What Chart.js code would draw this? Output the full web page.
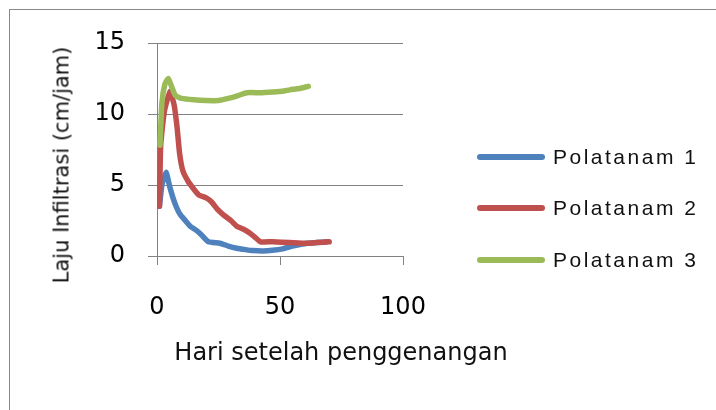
<!DOCTYPE html>
<html>
<head>
<meta charset="utf-8">
<script src="https://cdn.jsdelivr.net/npm/chart.js@4"></script>
<style>
  html, body { margin: 0; padding: 0; background: #fff; overflow: hidden; }
  #wrap { position: relative; width: 716px; height: 410px; }
  #frame { position: absolute; left: 9px; top: 9px; width: 800px; height: 500px; border: 1px solid #8a8a8a; }
  #chart { position: absolute; left: 0; top: 0; }
  .legend { position: absolute; left: 477px; height: 24px; display: flex; align-items: center;
            font-family: 'Liberation Sans', sans-serif; font-size: 21px; letter-spacing: 2.5px; color: #111; white-space: nowrap; }
  .legend span.line { display: inline-block; width: 68px; height: 6px; border-radius: 3px; margin-right: 8px; }
  .axis-title { position: absolute; font-family: 'DejaVu Sans', sans-serif; color: #111; white-space: nowrap;
                transform: translate(-50%, -50%); line-height: 1; }
  #xtitle { left: 341px; top: 352px; font-size: 24px; }
  #ytitle { left: 62px; top: 165px; font-size: 21px; transform: translate(-50%, -50%) rotate(-90deg); }
</style>
</head>
<body>
<div id="wrap">
  <div id="frame"></div>
  <canvas id="chart" width="716" height="410"></canvas>
  <div id="xtitle" class="axis-title">Hari setelah penggenangan</div>
  <div id="ytitle" class="axis-title">Laju Infiltrasi (cm/jam)</div>
  <div id="legend"></div>
</div>
<script>
// Séries (jour, laju infiltrasi cm/jam)
const seriesNames = ['Polatanam 1', 'Polatanam 2', 'Polatanam 3'];
const colors = ['#4f81bd', '#c0504d', '#9bbb59'];

const hari1 = [1, 2, 3.7, 5, 6.5, 8, 9.5, 11.5, 13.5, 16, 18, 20.9, 25.6, 29, 32.4, 36, 39, 43, 47, 51, 54, 58, 61, 65, 69];
const laju1 = [3.5, 5, 5.9, 5.0, 4.1, 3.4, 2.9, 2.5, 2.1, 1.8, 1.5, 1.0, 0.9, 0.7, 0.55, 0.45, 0.38, 0.35, 0.4, 0.5, 0.65, 0.8, 0.9, 0.95, 1.0];

const hari2 = [1, 1.5, 3, 5.3, 7, 8.2, 9.2, 10.5, 12.5, 15, 17, 20, 22.2, 24.5, 27, 30, 32.4, 35, 37.8, 40, 42, 47, 54, 60.8, 65, 70];
const laju2 = [3.5, 7.8, 10.2, 11.6, 10.6, 9.0, 7.2, 6.0, 5.3, 4.7, 4.3, 4.1, 3.8, 3.3, 2.9, 2.5, 2.1, 1.9, 1.6, 1.3, 1.0, 1.0, 0.95, 0.9, 0.95, 1.0];

const hari3 = [1.2, 2, 3.2, 4.6, 6, 7.5, 10, 15, 20, 25, 29, 33, 36.5, 42, 47, 51, 54, 58, 61.5];
const laju3 = [7.8, 10.8, 12.1, 12.5, 11.9, 11.3, 11.1, 11.0, 10.95, 10.95, 11.1, 11.3, 11.5, 11.5, 11.55, 11.6, 11.7, 11.8, 11.95];

const xTicks = [0, 50, 100];
const yTicks = [0, 5, 10, 15];

const allHari = [hari1, hari2, hari3];
const allLaju = [laju1, laju2, laju3];

const gridColor = '#828282';

// Légende en HTML à droite
const legend = document.getElementById('legend');
const legendTops = [145, 196, 248];
seriesNames.forEach((name, i) => {
  const div = document.createElement('div');
  div.className = 'legend';
  div.style.top = legendTops[i] + 'px';
  div.innerHTML = `<span class="line" style="background:${colors[i]}"></span><span>${name}</span>`;
  legend.appendChild(div);
});

const ctx = document.getElementById('chart').getContext('2d');
new Chart(ctx, {
  type: 'scatter',
  data: {
    datasets: seriesNames.map((name, i) => ({
      label: name,
      data: allHari[i].map((x, k) => ({ x, y: allLaju[i][k] })),
      showLine: true,
      borderColor: colors[i],
      backgroundColor: colors[i],
      borderWidth: 5.5,
      pointRadius: 0,
      tension: 0.15,
      borderCapStyle: 'round',
      borderJoinStyle: 'round',
      order: 3 - i
    }))
  },
  options: {
    responsive: false,
    animation: false,
    layout: { padding: { top: 43, right: 313, bottom: 0, left: 0 } },
    plugins: { legend: { display: false }, tooltip: { enabled: false } },
    scales: {
      x: {
        type: 'linear',
        min: 0, max: 100,
        afterBuildTicks: s => { s.ticks = xTicks.map(v => ({ value: v })); },
        afterFit: s => { s.height = 154; },
        ticks: { color: '#000', font: { family: 'DejaVu Sans', size: 24 }, padding: 28 },
        grid: { drawOnChartArea: false, drawTicks: true, tickLength: 9, color: gridColor },
        border: { color: gridColor }
      },
      y: {
        min: 0, max: 15,
        afterBuildTicks: s => { s.ticks = yTicks.map(v => ({ value: v })); },
        afterFit: s => { s.width = 157; },
        ticks: { color: '#000', font: { family: 'DejaVu Sans', size: 24 }, padding: 23 },
        grid: { drawTicks: true, tickLength: 9, color: gridColor },
        border: { color: gridColor }
      }
    }
  }
});
</script>
</body>
</html>
